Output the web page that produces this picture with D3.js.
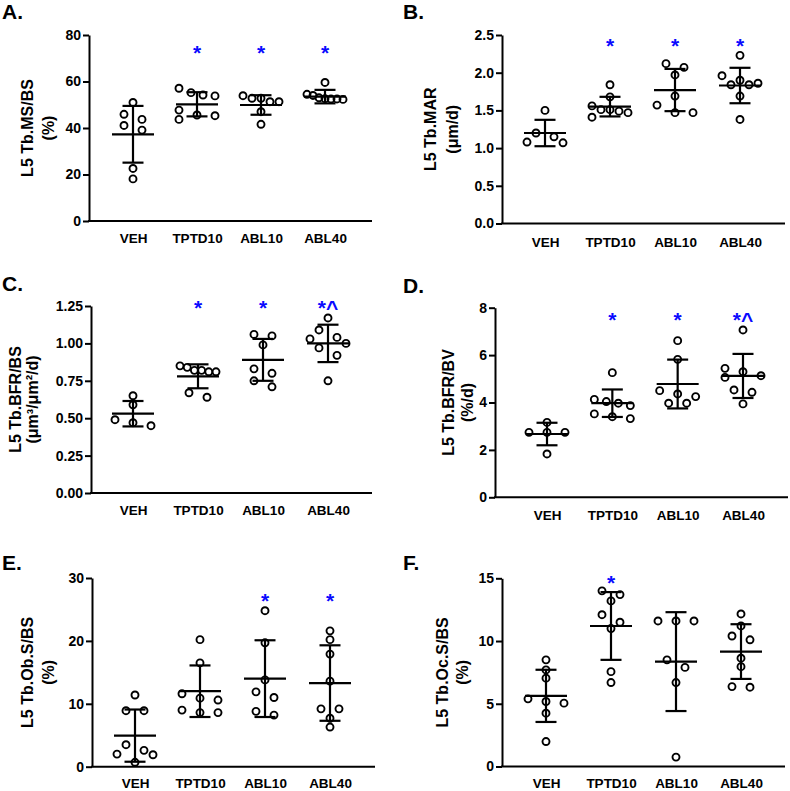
<!DOCTYPE html>
<html><head><meta charset="utf-8">
<script src="https://cdn.jsdelivr.net/npm/d3@7"></script>
<style>
body{margin:0;background:#fff}
svg{display:block}
text{font-family:"Liberation Sans",Arial,Helvetica,sans-serif;font-weight:bold;fill:#000}
</style>
</head><body>
<svg id="chart" width="790" height="791"></svg>
<script>
// ---------------- DATA ----------------
const categories = ["VEH", "TPTD10", "ABL10", "ABL40"];
const panelLetters = ["A.", "B.", "C.", "D.", "E.", "F."];
const yTitles = [
  ["L5 Tb.MS/BS", "(%)"],
  ["L5 Tb.MAR", "(\u03bcm/d)"],
  ["L5 Tb.BFR/BS", "(\u03bcm\u00b3/\u03bcm\u00b2/d)"],
  ["L5 Tb.BFR/BV", "(%/d)"],
  ["L5 Tb.Ob.S/BS", "(%)"],
  ["L5 Tb.Oc.S/BS", "(%)"]
];
const yTicksA = [0, 20, 40, 60, 80];
const yTicksB = [0, 0.5, 1.0, 1.5, 2.0, 2.5];
const yTicksC = [0, 0.25, 0.5, 0.75, 1.0, 1.25];
const yTicksD = [0, 2, 4, 6, 8];
const yTicksE = [0, 10, 20, 30];
const yTicksF = [0, 5, 10, 15];
const tickFormats = ["d", ".1f", ".2f", "d", "d", "d"];

// individual animals (VEH, TPTD10, ABL10, ABL40)
const msbsValues = [
  [51.0, 45.9, 43.7, 41.1, 39.1, 22.6, 18.1],
  [57.1, 55.2, 54.2, 53.8, 47.7, 45.6, 45.3, 43.7],
  [53.9, 52.8, 52.8, 51.3, 51.3, 47.0, 41.6],
  [59.6, 54.5, 54.0, 53.0, 52.6, 52.5, 52.3, 52.5]
];
const marValues = [
  [1.50, 1.20, 1.15, 1.08, 1.07],
  [1.84, 1.68, 1.56, 1.51, 1.51, 1.49, 1.47, 1.41],
  [2.12, 2.07, 1.97, 1.69, 1.57, 1.47, 1.47],
  [2.23, 1.96, 1.90, 1.86, 1.84, 1.84, 1.69, 1.38]
];
const bfrbsValues = [
  [0.65, 0.59, 0.49, 0.47, 0.45],
  [0.85, 0.84, 0.82, 0.82, 0.81, 0.81, 0.67, 0.64],
  [1.06, 1.05, 0.99, 0.83, 0.80, 0.75, 0.71],
  [1.17, 1.09, 1.04, 1.03, 1.00, 0.97, 0.92, 0.75]
];
const bfrbvValues = [
  [3.16, 2.74, 2.74, 2.74, 1.83],
  [5.26, 4.13, 4.04, 3.97, 3.87, 3.52, 3.40, 3.32],
  [6.61, 5.82, 4.50, 4.36, 4.25, 3.97, 3.97],
  [7.06, 5.44, 5.30, 5.13, 5.06, 4.53, 4.43, 3.94]
];
const obsbsValues = [
  [11.4, 8.9, 8.9, 3.5, 2.6, 2.0, 1.9, 0.7],
  [20.2, 16.5, 11.6, 10.9, 10.6, 9.0, 8.6, 8.6],
  [24.8, 19.7, 13.8, 11.9, 11.0, 8.8, 8.2],
  [21.6, 20.2, 17.9, 13.6, 9.2, 9.2, 7.7, 6.3]
];
const ocsbsValues = [
  [8.5, 7.7, 7.04, 5.39, 5.18, 5.05, 4.25, 1.99],
  [14.0, 13.7, 13.2, 12.1, 11.5, 11.0, 7.56, 6.69],
  [11.6, 11.6, 11.6, 8.5, 7.9, 6.69, 0.75],
  [12.16, 11.2, 10.4, 10.1, 8.63, 7.96, 6.37, 6.32]
];
// group means and SDs
const msbsMean = [37.3, 50.2, 49.9, 53.5];
const msbsSD = [12.2, 5.2, 4.2, 2.9];
const marMean = [1.20, 1.55, 1.77, 1.83];
const marSD = [0.175, 0.13, 0.28, 0.235];
const bfrbsMean = [0.53, 0.78, 0.89, 1.00];
const bfrbsSD = [0.085, 0.08, 0.14, 0.125];
const bfrbvMean = [2.67, 3.97, 4.78, 5.12];
const bfrbvSD = [0.475, 0.58, 1.03, 0.93];
const obsbsMean = [4.94, 12.0, 14.0, 13.3];
const obsbsSD = [4.15, 4.1, 6.1, 6.0];
const ocsbsMean = [5.63, 11.2, 8.36, 9.16];
const ocsbsSD = [2.08, 2.7, 3.94, 2.18];
// significance marks
const sigMarks = [
  ["", "*", "*", "*"],
  ["", "*", "*", "*"],
  ["", "*", "*", "*^"],
  ["", "*", "*", "*^"],
  ["", "", "*", "*"],
  ["", "*", "", ""]
];
const sigMarkLevel = [74.4, 2.42, 1.268, 7.69, 27.1, 15.0];

// ---------------- LAYOUT ----------------
const panels = [
  {values: msbsValues, mean: msbsMean, sd: msbsSD, ticks: yTicksA},
  {values: marValues, mean: marMean, sd: marSD, ticks: yTicksB},
  {values: bfrbsValues, mean: bfrbsMean, sd: bfrbsSD, ticks: yTicksC},
  {values: bfrbvValues, mean: bfrbvMean, sd: bfrbvSD, ticks: yTicksD},
  {values: obsbsValues, mean: obsbsMean, sd: obsbsSD, ticks: yTicksE},
  {values: ocsbsValues, mean: ocsbsMean, sd: ocsbsSD, ticks: yTicksF}
];
const geo = [
  {x0: 89, xEnd: 372, yTop: 35, yBot: 221, c0: 133, c3: 325, t1: 62, t2: 41, lx: 2, ly: 19, xl: 243},
  {x0: 502, xEnd: 785, yTop: 35, yBot: 223.5, c0: 545, c3: 740, t1: 72, t2: 50, lx: 403, ly: 19, xl: 247},
  {x0: 91, xEnd: 372, yTop: 306, yBot: 493, c0: 133, c3: 328, t1: 76, t2: 59, lx: 2, ly: 291, xl: 515},
  {x0: 495, xEnd: 788, yTop: 307.7, yBot: 497.3, c0: 547, c3: 743, t1: 47, t2: 28, lx: 403, ly: 293, xl: 520},
  {x0: 92, xEnd: 375, yTop: 578, yBot: 766.7, c0: 135, c3: 330, t1: 65, t2: 44, lx: 2, ly: 570, xl: 788},
  {x0: 502, xEnd: 785, yTop: 578.3, yBot: 766.5, c0: 546, c3: 741, t1: 60, t2: 40, lx: 403, ly: 570, xl: 788}
];

const svg = d3.select("#chart");
const R = 3.5, STROKE = 1.9, BIN = 8, MIND = 8.2;

function slotPatterns(n) {
  if (n === 1) return [[0], [-18], [18], [-9], [9]];
  if (n === 2) return [[-9, 9], [9, -9], [-18, 18], [18, -18], [-18, 0], [0, 18]];
  if (n === 3) return [[-18, 0, 18], [18, 0, -18], [0, -18, 18]];
  const sp = 36 / (n - 1);
  return [d3.range(n).map(i => (i - (n - 1) / 2) * sp)];
}

function swarm(vals, y) {
  const pts = vals.map(v => ({v, py: y(v)})).sort((a, b) => a.py - b.py);
  const rows = [];
  pts.forEach(p => {
    const last = rows[rows.length - 1];
    if (last && p.py - last[0].py < BIN) last.push(p); else rows.push([p]);
  });
  const placed = [];
  rows.forEach(row => {
    let best = null, bestPen = Infinity;
    slotPatterns(row.length).forEach(pat => {
      let pen = 0;
      row.forEach((p, i) => {
        placed.forEach(q => {
          const d = Math.hypot(pat[i] - q.dx, p.py - q.py);
          if (d < MIND) pen += MIND - d;
        });
      });
      if (pen < bestPen - 1e-9) { bestPen = pen; best = pat; }
    });
    row.forEach((p, i) => { p.dx = best[i]; placed.push(p); });
  });
  return pts;
}

panels.forEach((p, k) => {
  const g = geo[k];
  const maxV = p.ticks[p.ticks.length - 1];
  const y = d3.scaleLinear().domain([0, maxV]).range([g.yBot, g.yTop]);
  const x = d3.scalePoint().domain(categories).range([g.c0, g.c3]);
  const gp = svg.append("g");

  // panel letter
  gp.append("text").attr("x", g.lx).attr("y", g.ly).attr("font-size", 21).text(panelLetters[k]);

  // y axis
  const ya = gp.append("g").attr("transform", `translate(${g.x0},0)`)
    .call(d3.axisLeft(y).tickValues(p.ticks).tickSizeOuter(0).tickSizeInner(6).tickPadding(2)
      .tickFormat(d3.format(tickFormats[k])));
  ya.select(".domain").attr("stroke", "#000").attr("stroke-width", 2);
  ya.selectAll(".tick line").attr("stroke", "#000").attr("stroke-width", 2);
  ya.selectAll(".tick text").attr("font-size", 14).attr("font-family", null).attr("fill", "#000")
    .attr("font-weight", "bold");

  // x axis line
  gp.append("line").attr("x1", g.x0 - 1).attr("x2", g.xEnd).attr("y1", y(0)).attr("y2", y(0))
    .attr("stroke", "#000").attr("stroke-width", 2);
  // x labels via axis
  const xa = gp.append("g").attr("transform", `translate(0,${g.xl})`)
    .call(d3.axisBottom(x).tickSize(0).tickPadding(0));
  xa.select(".domain").remove();
  xa.selectAll(".tick text").attr("font-size", 13.5).attr("font-family", null).attr("fill", "#000")
    .attr("font-weight", "bold").attr("dy", 0);

  // y title
  const cy = (g.yTop + g.yBot) / 2;
  gp.append("text").attr("transform", `translate(${g.x0 - g.t1 + 5.8},${cy}) rotate(-90)`)
    .attr("text-anchor", "middle").attr("font-size", 16).text(yTitles[k][0]);
  gp.append("text").attr("transform", `translate(${g.x0 - g.t2 + 5.8},${cy}) rotate(-90)`)
    .attr("text-anchor", "middle").attr("font-size", 16).text(yTitles[k][1]);

  categories.forEach((c, ci) => {
    const cx = x(c);
    const pts = swarm(p.values[ci], y);
    gp.selectAll(null).data(pts).enter().append("circle")
      .attr("cx", d => cx + d.dx).attr("cy", d => d.py).attr("r", R)
      .attr("fill", "none").attr("stroke", "#000").attr("stroke-width", STROKE);
    const m = p.mean[ci], s = p.sd[ci];
    const lw = 2.2;
    gp.append("line").attr("x1", cx).attr("x2", cx).attr("y1", y(m - s)).attr("y2", y(m + s))
      .attr("stroke", "#000").attr("stroke-width", lw);
    gp.append("line").attr("x1", cx - 21).attr("x2", cx + 21).attr("y1", y(m)).attr("y2", y(m))
      .attr("stroke", "#000").attr("stroke-width", lw);
    [m - s, m + s].forEach(v => {
      gp.append("line").attr("x1", cx - 10.5).attr("x2", cx + 10.5).attr("y1", y(v)).attr("y2", y(v))
        .attr("stroke", "#000").attr("stroke-width", lw);
    });
    const mk = sigMarks[k][ci];
    if (mk) {
      gp.append("text").attr("x", cx).attr("y", y(sigMarkLevel[k]) + 11.5)
        .attr("text-anchor", "middle").attr("font-size", 21).style("fill", "#0a0aff").text(mk);
    }
  });
});
</script>
</body></html>
